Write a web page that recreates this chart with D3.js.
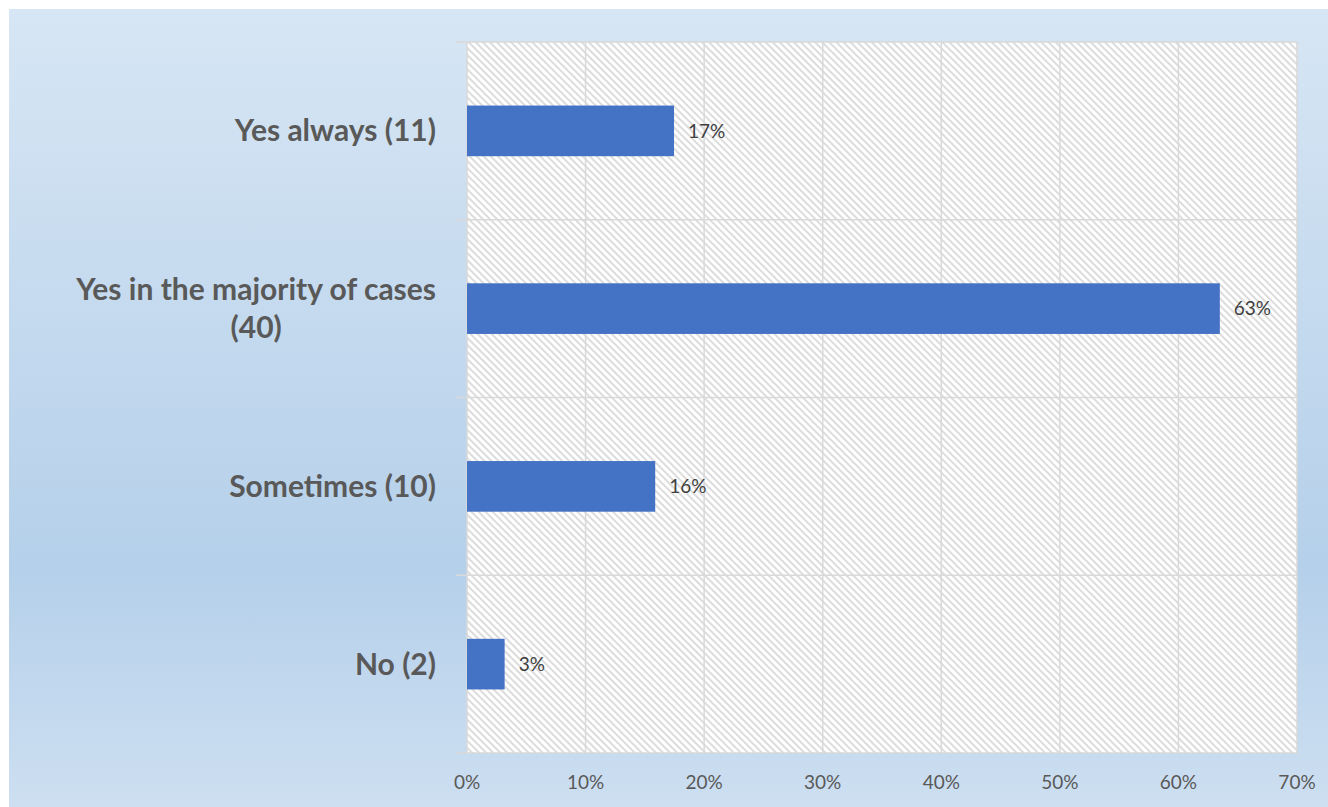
<!DOCTYPE html>
<meta charset="utf-8">
<html>
<head>
<script src="https://d3js.org/d3.v7.min.js"></script>
<style>
  body { margin: 0; background: #fff; }
</style>
</head>
<body>
<svg id="my_dataviz" width="1328" height="807"></svg>
</body>
</html>
<script>

// Data
var categories = ["Yes always (11)", "Yes in the majority of cases (40)", "Sometimes (10)", "No (2)"];
var labelLines = [["Yes always (11)"], ["Yes in the majority of cases", "(40)"], ["Sometimes (10)"], ["No (2)"]];
var counts = [11, 40, 10, 2];
var total = 63;
var xTicks = [0, 0.1, 0.2, 0.3, 0.4, 0.5, 0.6, 0.7];

var svg = d3.select("svg"),
  width = +svg.attr("width"),
  height = +svg.attr("height");

var margin = {top: 42, right: 31, bottom: 54, left: 467};
var plotW = width - margin.left - margin.right,
  plotH = height - margin.top - margin.bottom;

// background gradient
var defs = svg.append("defs");
var grad = defs.append("linearGradient")
  .attr("id", "bg").attr("x1", 0).attr("y1", 0).attr("x2", 0).attr("y2", 1);
grad.append("stop").attr("offset", "0%").attr("stop-color", "#d7e6f4");
grad.append("stop").attr("offset", "70%").attr("stop-color", "#b5d0ea");
grad.append("stop").attr("offset", "100%").attr("stop-color", "#cddff1");

// hatch for the plot area
var pat = defs.append("pattern")
  .attr("id", "hatch")
  .attr("patternUnits", "userSpaceOnUse")
  .attr("width", 5).attr("height", 5)
  .attr("patternTransform", "rotate(-45)");
pat.append("rect").attr("width", 5).attr("height", 5).attr("fill", "#ffffff");
pat.append("rect").attr("width", 2).attr("height", 5).attr("fill", "#dcdcdc");

svg.append("rect")
  .attr("x", 9).attr("y", 9)
  .attr("width", width - 9).attr("height", height - 9)
  .attr("fill", "url(#bg)");

var g = svg.append("g").attr("transform", "translate(" + margin.left + "," + margin.top + ")");

// scales
var x = d3.scaleLinear().domain([0, 0.7]).range([0, plotW]);
var y = d3.scaleBand().domain(categories).range([0, plotH]).padding(0);
var barH = y.bandwidth() * 0.285;

// plot area
g.append("rect")
  .attr("width", plotW).attr("height", plotH)
  .attr("fill", "url(#hatch)");

// vertical gridlines
g.selectAll(".vgrid")
  .data(xTicks)
  .enter()
  .append("line")
    .attr("x1", function(d) { return x(d); })
    .attr("x2", function(d) { return x(d); })
    .attr("y1", 0).attr("y2", plotH)
    .attr("stroke", "#d9d9d9")
    .attr("stroke-width", 1.5);

// category boundaries with outside ticks
var bounds = categories.map(function(c) { return y(c); }).concat([plotH]);
g.selectAll(".hgrid")
  .data(bounds)
  .enter()
  .append("line")
    .attr("x1", -11).attr("x2", plotW)
    .attr("y1", function(d) { return d; })
    .attr("y2", function(d) { return d; })
    .attr("stroke", "#d9d9d9")
    .attr("stroke-width", 1.5);

// bars
g.selectAll(".bar")
  .data(categories)
  .enter()
  .append("rect")
    .attr("x", 0)
    .attr("y", function(d) { return y(d) + (y.bandwidth() - barH) / 2; })
    .attr("width", function(d, i) { return x(counts[i] / total); })
    .attr("height", barH)
    .attr("fill", "#4472c4");

// data labels
g.selectAll(".dlabel")
  .data(categories)
  .enter()
  .append("text")
    .attr("x", function(d, i) { return x(counts[i] / total) + 14; })
    .attr("y", function(d) { return y(d) + y.bandwidth() / 2; })
    .attr("dy", "0.35em")
    .attr("font-family", "Lato, 'Open Sans', sans-serif")
    .attr("font-size", 19)
    .attr("fill", "#404040")
    .text(function(d, i) { return Math.round(counts[i] / total * 100) + "%"; });

// category labels: each label is a centred block whose right edge sits 31px left of the axis
var lineH = 38;
g.selectAll(".clabel")
  .data(categories)
  .enter()
  .append("text")
    .attr("font-family", "Lato, 'Open Sans', sans-serif")
    .attr("font-weight", "bold")
    .attr("font-size", 30)
    .attr("fill", "#595959")
    .attr("text-anchor", "middle")
    .each(function(d, i) {
      var t = d3.select(this);
      var n = labelLines[i].length;
      var spans = labelLines[i].map(function(s, k) {
        return t.append("tspan")
          .attr("y", y(d) + y.bandwidth() / 2 + (k - (n - 1) / 2) * lineH)
          .attr("dy", "0.35em")
          .text(s);
      });
      var maxW = d3.max(spans, function(sp) { return sp.node().getComputedTextLength(); });
      spans.forEach(function(sp) { sp.attr("x", -31 - maxW / 2); });
    });

// x axis labels
g.selectAll(".xlabel")
  .data(xTicks)
  .enter()
  .append("text")
    .attr("x", function(d) { return x(d); })
    .attr("y", plotH + 29)
    .attr("dy", "0.35em")
    .attr("text-anchor", "middle")
    .attr("font-family", "Lato, 'Open Sans', sans-serif")
    .attr("font-size", 19)
    .attr("fill", "#595959")
    .text(d3.format(".0%"));

</script>
